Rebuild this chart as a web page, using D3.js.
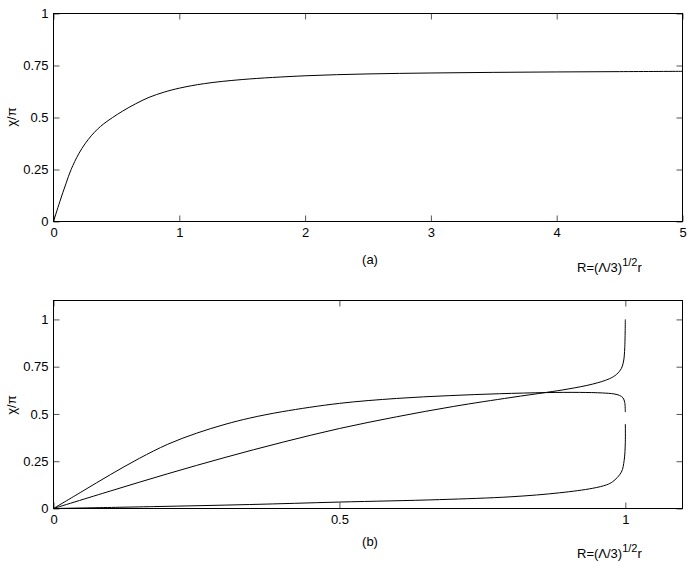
<!DOCTYPE html>
<html>
<head>
<meta charset="utf-8">
<script src="https://cdn.jsdelivr.net/npm/d3@7"></script>
<style>
  body { margin: 0; background: #fff; }
  svg { display: block; font-family: "Liberation Sans", Arial, sans-serif; }
</style>
</head>
<body>
<div id="chart"></div>
<script>
// panel (a): single curve
var rA   = [0, 0.05, 0.1, 0.14, 0.2, 0.25, 0.3, 0.35, 0.4, 0.47, 0.55, 0.65, 0.76, 0.88, 1.0, 1.2, 1.5, 2, 2.5, 3, 3.5, 4, 4.5, 5];
var chiA = [0, 0.095, 0.184, 0.25, 0.325, 0.373, 0.412, 0.444, 0.47, 0.5, 0.531, 0.565, 0.597, 0.622, 0.641, 0.663, 0.6825, 0.7005, 0.7095, 0.714, 0.717, 0.719, 0.7205, 0.722];

// panel (b): three branches
var rUpper   = [0, 0.05, 0.1, 0.15, 0.2, 0.25, 0.3, 0.343, 0.4, 0.5, 0.6, 0.693, 0.78, 0.862, 0.92, 0.96, 0.98, 0.99, 0.996, 0.999, 1.0];
var chiUpper = [0, 0.09, 0.18, 0.265, 0.34, 0.398, 0.445, 0.478, 0.512, 0.556, 0.582, 0.597, 0.607, 0.613, 0.614, 0.611, 0.606, 0.598, 0.585, 0.56, 0.51];
var rMiddle   = [0, 0.1, 0.2, 0.3, 0.4, 0.5, 0.6, 0.7, 0.8, 0.862, 0.9, 0.943, 0.972, 0.985, 0.993, 0.997, 0.999, 1.0];
var chiMiddle = [0, 0.093, 0.184, 0.27, 0.35, 0.423, 0.485, 0.54, 0.587, 0.614, 0.632, 0.658, 0.686, 0.71, 0.74, 0.78, 0.85, 1.0];
var rLower   = [0, 0.175, 0.343, 0.5, 0.675, 0.8, 0.885, 0.943, 0.967, 0.978, 0.993, 0.998, 1.0, 1.0];
var chiLower = [0, 0.01, 0.021, 0.034, 0.047, 0.062, 0.083, 0.107, 0.125, 0.142, 0.192, 0.255, 0.35, 0.447];

// ticks
var xTicksA = [0, 1, 2, 3, 4, 5];
var xTicksB = [0, 0.5, 1];
var yTicks  = [0, 0.25, 0.5, 0.75, 1];

var svg = d3.select("#chart").append("svg")
    .attr("width", 692)
    .attr("height", 562);

function zip(xs, ys){
    return xs.map(function(x, i){ return [x, ys[i]]; });
}

function drawPanel(opt){
    var x = d3.scaleLinear().domain(opt.xDomain).range([53.5, 682.5]);
    var y = d3.scaleLinear().domain(opt.yDomain).range([opt.bottom, opt.top]);

    var g = svg.append("g");

    // ticks on all four sides, pointing inward
    var bottomAxis = g.append("g")
        .attr("transform", "translate(0," + opt.bottom + ")")
        .call(d3.axisBottom(x).tickValues(opt.xTicks).tickSizeInner(-6).tickSizeOuter(0).tickPadding(6)
            .tickFormat(d3.format("")));
    var topAxis = g.append("g")
        .attr("transform", "translate(0," + opt.top + ")")
        .call(d3.axisTop(x).tickValues(opt.xTicks).tickSizeInner(-6).tickSizeOuter(0).tickFormat(""));
    var leftAxis = g.append("g")
        .attr("transform", "translate(53.5,0)")
        .call(d3.axisLeft(y).tickValues(yTicks).tickSizeInner(-6).tickSizeOuter(0).tickPadding(5)
            .tickFormat(d3.format("")));
    var rightAxis = g.append("g")
        .attr("transform", "translate(682.5,0)")
        .call(d3.axisRight(y).tickValues(yTicks).tickSizeInner(-6).tickSizeOuter(0).tickFormat(""));

    [bottomAxis, topAxis, leftAxis, rightAxis].forEach(function(a){
        a.select(".domain").remove();
        a.selectAll(".tick line").attr("stroke", "#555");
        a.selectAll("text").attr("font-size", "13px").attr("fill", "#000")
            .attr("font-family", "'Liberation Sans', Arial, sans-serif");
    });

    // frame
    g.append("rect")
        .attr("x", 53.5).attr("y", opt.top)
        .attr("width", 629).attr("height", opt.bottom - opt.top)
        .attr("fill", "none").attr("stroke", "#000").attr("stroke-width", 1);

    var line = d3.line()
        .x(function(d){ return x(d[0]); })
        .y(function(d){ return y(d[1]); })
        .curve(d3.curveCatmullRom.alpha(0.5));

    opt.series.forEach(function(s){
        g.append("path")
            .attr("d", line(s))
            .attr("fill", "none")
            .attr("stroke", "#000")
            .attr("stroke-width", 1);
    });

    // y label
    g.append("text")
        .attr("transform", "translate(16," + opt.yLabelY + ") rotate(-90)")
        .attr("text-anchor", "middle")
        .attr("font-size", "13px")
        .text("\u03C7/\u03C0");

    // panel caption
    g.append("text")
        .attr("x", 370).attr("y", opt.captionY)
        .attr("text-anchor", "middle")
        .attr("font-size", "13px")
        .text(opt.caption);

    // x label R=(Λ/3)^{1/2} r
    var xl = g.append("text")
        .attr("x", 577).attr("y", opt.xLabelY)
        .attr("font-size", "13px");
    xl.append("tspan").text("R=(\u039B/3)");
    xl.append("tspan").attr("dy", -6).attr("font-size", "11px").text("1/2");
    xl.append("tspan").attr("dy", 6).text("r");
}

drawPanel({
    xDomain: [0, 5], yDomain: [0, 1],
    top: 13.5, bottom: 221.5,
    xTicks: xTicksA,
    series: [zip(rA, chiA)],
    yLabelY: 117, caption: "(a)", captionY: 264, xLabelY: 272
});

drawPanel({
    xDomain: [0, 1.1], yDomain: [0, 1.1],
    top: 300.5, bottom: 508.5,
    xTicks: xTicksB,
    series: [zip(rUpper, chiUpper), zip(rMiddle, chiMiddle), zip(rLower, chiLower)],
    yLabelY: 405, caption: "(b)", captionY: 546, xLabelY: 558
});
</script>
</body>
</html>
